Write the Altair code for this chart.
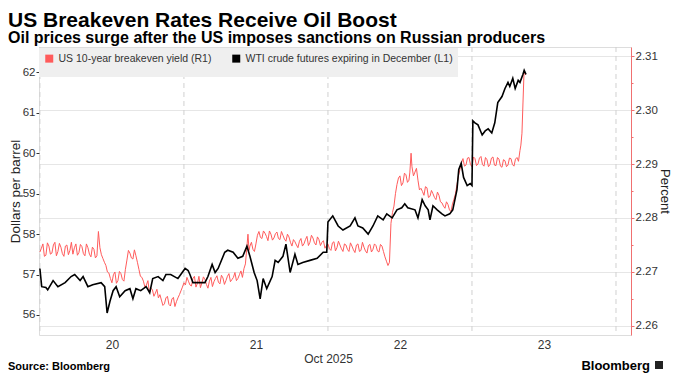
import altair as alt
import pandas as pd

TITLE = "US Breakeven Rates Receive Oil Boost"
SUBTITLE = "Oil prices surge after the US imposes sanctions on Russian producers"
SOURCE = "Source: Bloomberg"
BRAND = "Bloomberg"
SERIES = ["US 10-year breakeven yield (R1)", "WTI crude futures expiring in December (L1)"]
COLORS = ["#ff5b5b", "#000000"]

# x values: hours since Oct 20 00:00
wti_points = [
    (0, 57.15), (0.3, 56.7), (1, 56.68), (1.3, 56.62), (2.2, 56.85), (3, 56.7), (4.2, 56.8),
    (5.2, 56.95), (5.8, 57.0), (6.7, 56.85), (7.2, 56.95), (8, 56.7), (8.8, 56.75), (10.2, 56.8),
    (10.8, 56.7), (11.2, 56.05), (11.7, 56.35), (12.2, 56.6), (12.7, 56.7), (13.3, 56.45),
    (14.2, 56.6), (15, 56.65), (15.5, 56.4), (16, 56.65), (16.8, 56.6), (17.7, 56.7), (18.3, 56.55),
    (18.8, 56.9), (19.7, 56.95), (20.5, 56.85), (21, 57.0), (21.8, 57.0), (23, 56.9), (24.2, 57.15),
    (24.7, 57.1), (25, 57.0), (25.5, 56.8), (26.7, 56.8), (27.5, 56.8), (28, 56.95), (28.7, 57.25),
    (29.2, 57.05), (29.7, 57.15), (30.8, 57.55), (31.3, 57.6), (32.2, 57.55), (33, 57.4),
    (33.8, 57.45), (34.5, 57.7), (35, 57.45), (35.7, 57.05), (36.2, 56.85), (36.7, 56.4),
    (37.2, 56.9), (37.8, 56.65), (38.7, 56.95), (39.2, 57.35), (39.7, 57.3), (40.5, 57.45),
    (41, 57.75), (41.7, 57.05), (42.5, 57.5), (43, 57.25), (43.8, 57.3), (45, 57.35), (46.2, 57.4),
    (47.2, 57.55), (47.8, 57.55), (48, 58.3), (48.8, 58.45), (49.7, 58.2), (50.5, 58.1),
    (51.7, 58.2), (52.5, 58.4), (53, 58.2), (53.8, 58.15), (54.7, 58.0), (55.5, 58.2), (56.3, 58.45),
    (57.2, 58.35), (57.8, 58.5), (58.7, 58.4), (59.5, 58.6), (60.3, 58.65), (60.8, 58.75),
    (61.3, 58.65), (62.5, 58.6), (63, 58.4), (63.7, 58.85), (64.2, 58.7), (64.7, 58.6), (65, 58.35),
    (65.5, 58.7), (66.2, 58.6), (67, 58.5), (67.5, 58.45), (68.3, 58.5), (68.8, 58.6), (69.5, 59.1),
    (69.8, 59.6), (70.2, 59.75), (70.6, 59.4), (71.2, 59.2), (71.7, 59.25), (72, 59.2), (72.15, 60.8),
    (72.5, 60.75), (73, 60.7), (73.7, 60.45), (74.2, 60.55), (74.7, 60.6), (75.3, 60.5), (75.8, 60.75),
    (76.3, 61.25), (77, 61.4), (77.5, 61.6), (78, 61.75), (78.3, 61.65), (78.8, 61.85), (79.2, 61.6),
    (79.7, 61.8), (80, 61.75), (80.5, 61.95), (80.7, 62.05), (81, 61.95),
]

# breakeven readings on the half hour
be_points = [
    (0, 2.2737), (0.5, 2.2752), (1, 2.2731), (1.5, 2.2748), (2, 2.2735), (2.5, 2.2755), (3, 2.2738),
    (3.5, 2.2746), (4, 2.2729), (4.5, 2.2750), (5, 2.2740), (5.5, 2.2733), (6, 2.2752), (6.5, 2.2736),
    (7, 2.2747), (7.5, 2.2730), (8, 2.2745), (8.5, 2.2728), (9, 2.2742), (9.5, 2.2730),
    (9.75, 2.2775), (10, 2.2745), (10.5, 2.2725), (11, 2.2712), (11.5, 2.2698),
    (12, 2.2680), (12.5, 2.2700), (13, 2.2684), (13.5, 2.2697), (14, 2.2683),
    (14.5, 2.2722), (15, 2.2735), (15.5, 2.2724), (16, 2.2730), (16.5, 2.2705),
    (17, 2.2690), (17.5, 2.2672), (18, 2.2684),
    (18.5, 2.2670), (19, 2.2655), (19.5, 2.2668), (20, 2.2658),
    (20.5, 2.2638), (21, 2.2652), (21.5, 2.2640), (22, 2.2650), (22.5, 2.2636),
    (23, 2.2652), (23.5, 2.2665), (24, 2.2680),
    (24.5, 2.2690), (25, 2.2676), (25.5, 2.2688), (26, 2.2672), (26.5, 2.2692), (27, 2.2680),
    (27.5, 2.2686), (28, 2.2670), (28.5, 2.2690), (29, 2.2682), (29.5, 2.2693), (30, 2.2678),
    (30.5, 2.2689), (31, 2.2684), (31.5, 2.2697), (32, 2.2686), (32.5, 2.2699), (33, 2.2688),
    (33.5, 2.2702), (34, 2.2706),
    (34.67, 2.2770), (35, 2.2748), (35.5, 2.2742), (36, 2.2752),
    (36.5, 2.2775), (37, 2.2762), (37.5, 2.2772), (38, 2.2758), (38.5, 2.2770), (39, 2.2763),
    (39.5, 2.2774), (40, 2.2760), (40.5, 2.2768), (41, 2.2757), (41.5, 2.2765),
    (42, 2.2748), (42.5, 2.2756), (43, 2.2745),
    (43.5, 2.2762), (44, 2.2752), (44.5, 2.2766), (45, 2.2755), (45.5, 2.2763), (46, 2.2750),
    (46.5, 2.2760),
    (47, 2.2755), (47.5, 2.2744), (48, 2.2752), (48.5, 2.2740), (49, 2.2756), (49.5, 2.2745),
    (50, 2.2750), (50.5, 2.2738),
    (51, 2.2750), (51.5, 2.2738), (52, 2.2748), (52.5, 2.2736), (53, 2.2752), (53.5, 2.2740),
    (54, 2.2746), (54.5, 2.2735), (55, 2.2751), (55.5, 2.2742), (56, 2.2749), (56.5, 2.2737),
    (57, 2.2748),
    (57.5, 2.2728), (58, 2.2712), (58.25, 2.2718), (58.5, 2.2790), (59, 2.2822),
    (59.5, 2.2862), (60, 2.2878), (60.5, 2.2865), (61, 2.2880), (61.5, 2.2870),
    (61.85, 2.2920), (62, 2.2895), (62.5, 2.2885), (63, 2.2870),
    (63.5, 2.2855), (64, 2.2842), (64.5, 2.2856), (65, 2.2840),
    (65.5, 2.2845), (66, 2.2834), (66.5, 2.2842),
    (67, 2.2828), (67.5, 2.2818), (68, 2.2825), (68.5, 2.2812),
    (69, 2.2835), (69.5, 2.2862), (70, 2.2890), (70.5, 2.2910),
    (71, 2.2898), (71.5, 2.2912), (72, 2.2895), (72.5, 2.2910), (73, 2.2900), (73.5, 2.2914),
    (74, 2.2896), (74.5, 2.2908), (75, 2.2899), (75.5, 2.2913), (76, 2.2897), (76.5, 2.2909),
    (77, 2.2894), (77.5, 2.2906), (78, 2.2898), (78.5, 2.2910), (79, 2.2896),
    (79.5, 2.2912), (80, 2.2925), (80.33, 2.2957), (80.5, 2.3013), (80.67, 2.3069), (81, 2.3065),
]

# breakeven readings at quarter past / quarter to
be_points_between = [
    (0.25, 2.2744), (0.75, 2.2729), (1.25, 2.2754), (1.75, 2.2733), (2.25, 2.2750), (2.75, 2.2730),
    (3.25, 2.2753), (3.75, 2.2734), (4.25, 2.2748), (4.75, 2.2732), (5.25, 2.2755), (5.75, 2.2745),
    (6.25, 2.2731), (6.75, 2.2751), (7.25, 2.2734), (7.75, 2.2752),
    (8.25, 2.2733), (8.75, 2.2746), (9.25, 2.2726),
    (10.25, 2.2732), (10.75, 2.2718), (11.25, 2.2700), (11.75, 2.2688),
    (12.25, 2.2695), (12.75, 2.2679), (13.25, 2.2701), (13.75, 2.2686), (14.25, 2.2705),
    (14.75, 2.2740), (15.25, 2.2726), (15.75, 2.2741), (16.25, 2.2718), (16.75, 2.2692),
    (17.25, 2.2683), (17.75, 2.2676),
    (18.25, 2.2662), (18.75, 2.2667), (19.25, 2.2661), (19.75, 2.2652),
    (20.25, 2.2648), (20.75, 2.2641), (21.25, 2.2655), (21.75, 2.2637), (22.25, 2.2653),
    (22.75, 2.2645), (23.25, 2.2658), (23.75, 2.2672),
    (24.25, 2.2676), (24.75, 2.2683), (25.25, 2.2674), (25.75, 2.2692), (26.25, 2.2679),
    (26.75, 2.2671), (27.25, 2.2691), (27.75, 2.2677), (28.25, 2.2683), (28.75, 2.2673),
    (29.25, 2.2688), (29.75, 2.2681), (30.25, 2.2694), (30.75, 2.2677), (31.25, 2.2692),
    (31.75, 2.2682), (32.25, 2.2690), (32.75, 2.2684), (33.25, 2.2695), (33.75, 2.2690),
    (34.25, 2.2715), (34.85, 2.2740),
    (35.25, 2.2755), (35.75, 2.2738), (36.25, 2.2768),
    (36.75, 2.2764), (37.25, 2.2776), (37.75, 2.2766), (38.25, 2.2776), (38.75, 2.2759),
    (39.25, 2.2771), (39.75, 2.2762), (40.25, 2.2775), (40.75, 2.2761), (41.25, 2.2770),
    (41.75, 2.2755), (42.25, 2.2760), (42.75, 2.2750),
    (43.25, 2.2757), (43.75, 2.2748), (44.25, 2.2760), (44.75, 2.2749), (45.25, 2.2768),
    (45.75, 2.2754), (46.25, 2.2765), (46.75, 2.2749),
    (47.25, 2.2758), (47.75, 2.2749), (48.25, 2.2743), (48.75, 2.2754), (49.25, 2.2739),
    (49.75, 2.2757), (50.25, 2.2743), (50.75, 2.2752),
    (51.25, 2.2742), (51.75, 2.2754), (52.25, 2.2741), (52.75, 2.2750), (53.25, 2.2738),
    (53.75, 2.2755), (54.25, 2.2739), (54.75, 2.2749), (55.25, 2.2737), (55.75, 2.2752),
    (56.25, 2.2739), (56.75, 2.2751), (57.25, 2.2738), (57.75, 2.2720),
    (58.75, 2.2810), (59.25, 2.2845),
    (59.75, 2.2874), (60.25, 2.2860), (60.75, 2.2883), (61.25, 2.2866), (61.65, 2.2885),
    (62.25, 2.2878), (62.75, 2.2892), (63.25, 2.2852),
    (63.75, 2.2849), (64.25, 2.2858), (64.75, 2.2838),
    (65.25, 2.2851), (65.75, 2.2838), (66.25, 2.2848), (66.75, 2.2830),
    (67.25, 2.2822), (67.75, 2.2830), (68.25, 2.2815), (68.75, 2.2826),
    (69.25, 2.2845), (69.75, 2.2878), (70.25, 2.2902), (70.75, 2.2896),
    (71.25, 2.2911), (71.75, 2.2899), (72.25, 2.2913), (72.75, 2.2897), (73.25, 2.2911),
    (73.75, 2.2899), (74.25, 2.2912), (74.75, 2.2895), (75.25, 2.2911), (75.75, 2.2898),
    (76.25, 2.2912), (76.75, 2.2896), (77.25, 2.2908), (77.75, 2.2895), (78.25, 2.2911),
    (78.75, 2.2899), (79.25, 2.2909), (79.75, 2.2905), (80.15, 2.2935),
]

day_grid_hours = [0, 24, 48, 72, 96]
day_label_hours = [12, 36, 60, 84]
left_ticks = [56, 57, 58, 59, 60, 61, 62]
right_ticks = [2.26, 2.265, 2.27, 2.275, 2.28, 2.285, 2.29, 2.295, 2.30, 2.305, 2.31]

FONT = "Liberation Sans"
W, H = 592, 288

wti_df = pd.DataFrame(wti_points, columns=["hour", "value"])
wti_df["series"] = SERIES[1]
be_df = pd.DataFrame(be_points + be_points_between, columns=["hour", "value"])
be_df = be_df.sort_values("hour").reset_index(drop=True)
be_df["series"] = SERIES[0]
grid_df = pd.DataFrame({"hour": day_grid_hours})

x_scale = alt.Scale(domain=[-0.15, 98.5], nice=False, zero=False)
x_axis = alt.Axis(
    values=day_label_hours, labelExpr="floor(datum.value / 24) + 20", ticks=False, domain=False,
    grid=False, labelFontSize=12, labelFont=FONT, labelColor="#333333", labelPadding=4,
    title="Oct 2025", titleFont=FONT, titleFontSize=12, titleFontWeight="normal",
    titleColor="#333333", titlePadding=3, titleX=289,
)
x_enc = alt.X("hour:Q", scale=x_scale, axis=x_axis)

color_scale = alt.Scale(domain=SERIES, range=COLORS)
legend = alt.Legend(
    title=None, orient="none", legendX=0, legendY=1, direction="horizontal",
    fillColor="#efefef", padding=5, symbolType="square", symbolSize=4, symbolStrokeWidth=6,
    labelFontSize=10.5, labelFont=FONT, labelColor="#333333", columnPadding=11, labelOffset=4,
    labelLimit=0,
)

major = "abs(datum.value * 100 - round(datum.value * 100)) < 0.01"

grid_rules = alt.Chart(grid_df).mark_rule(
    color="#d0d0d0", strokeDash=[5, 4], strokeWidth=1
).encode(x=x_enc)

be_line = alt.Chart(be_df).mark_line(strokeWidth=1).encode(
    x=x_enc,
    y=alt.Y(
        "value:Q",
        scale=alt.Scale(domain=[2.25833, 2.31167], nice=False, zero=False),
        axis=alt.Axis(
            orient="right", values=right_ticks,
            labelExpr=f"({major}) ? format(datum.value, '.2f') : ''",
            labelOverlap=False, labelFontSize=11.5, labelFont=FONT, labelColor="#333333",
            labelPadding=1, domainColor="#f07070", tickColor="#f07070",
            tickSize=alt.condition(major, alt.value(3), alt.value(2)),
            grid=True, gridColor="#e6e6e6",
            gridOpacity=alt.condition(major, alt.value(1), alt.value(0)),
            title="Percent", titleFont=FONT, titleFontSize=13, titleFontWeight="normal",
            titleColor="#222222", titlePadding=0,
        ),
    ),
    color=alt.Color("series:N", scale=color_scale, legend=legend),
)

wti_line = alt.Chart(wti_df).mark_line(strokeWidth=1.6).encode(
    x=x_enc,
    y=alt.Y(
        "value:Q",
        scale=alt.Scale(domain=[55.505, 62.625], nice=False, zero=False),
        axis=alt.Axis(
            orient="left", values=left_ticks, format="d", domain=False, tickSize=3,
            tickColor="#333333", grid=False, labelFontSize=11.5, labelFont=FONT,
            labelColor="#333333", labelPadding=1,
            title="Dollars per barrel", titleFont=FONT, titleFontSize=13.5,
            titleFontWeight="normal", titleColor="#222222", titlePadding=0,
        ),
    ),
    color=alt.Color("series:N", scale=color_scale, legend=legend),
)


def text_layer(txt, x, y, size, weight="normal", align="left", color="#000000"):
    return alt.Chart(pd.DataFrame({"t": [txt]})).mark_text(
        align=align, baseline="alphabetic", fontSize=size, fontWeight=weight, font=FONT, color=color
    ).encode(x=alt.value(x), y=alt.value(y), text="t:N")


title_t = text_layer(TITLE, -31, -20, 21, "bold")
subtitle_t = text_layer(SUBTITLE, -31, -4, 16, "bold")
source_t = text_layer(SOURCE, -31, 323, 11, "bold")
brand_t = text_layer(BRAND, 611, 323, 13, "bold", align="right")
icon = alt.Chart(pd.DataFrame({"t": [BRAND]})).mark_square(
    size=64, color="#222222", opacity=1
).encode(x=alt.value(620), y=alt.value(318))

chart = alt.layer(
    grid_rules, be_line, wti_line, title_t, subtitle_t, source_t, brand_t, icon
).resolve_scale(y="independent").properties(
    width=W, height=H,
    autosize=alt.AutoSizeParams(type="none"),
    padding={"left": 31, "top": 39, "right": 41, "bottom": 39},
).configure_view(stroke=None).configure(background="white")

chart.save("out.html", embed_options={"renderer": "svg", "actions": False})
